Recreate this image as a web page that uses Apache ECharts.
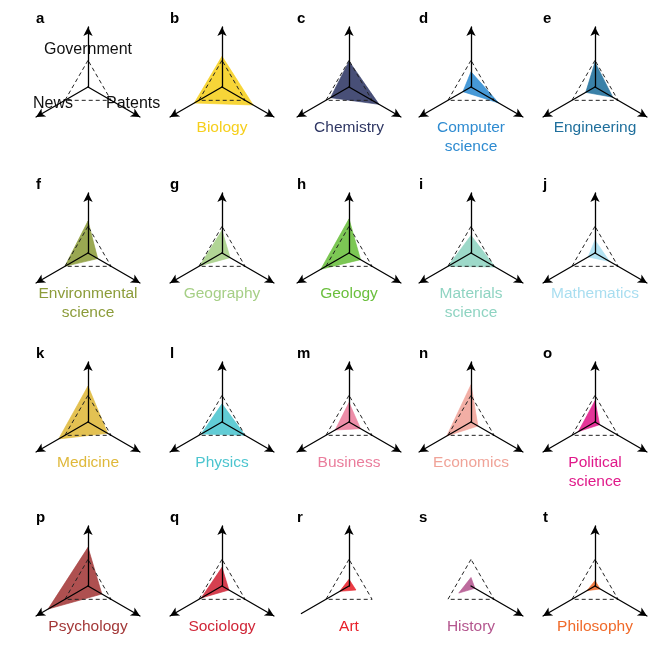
<!DOCTYPE html>
<html>
<head>
<meta charset="utf-8">
<script src="https://cdn.jsdelivr.net/npm/echarts@6/dist/echarts.min.js"></script>
<style>
  html, body { margin: 0; padding: 0; background: #fff; }
  #main { width: 660px; height: 660px; }
</style>
</head>
<body>
<div id="main"></div>
<script>
// three axes of every small radar, counter-clockwise from the top
var axisNames = ['Government', 'News', 'Patents'];
var letters = ['a','b','c','d','e','f','g','h','i','j','k','l','m','n','o','p','q','r','s','t'];
var fields = ['', 'Biology', 'Chemistry', 'Computer\nscience', 'Engineering',
  'Environmental\nscience', 'Geography', 'Geology', 'Materials\nscience', 'Mathematics',
  'Medicine', 'Physics', 'Business', 'Economics', 'Political\nscience',
  'Psychology', 'Sociology', 'Art', 'History', 'Philosophy'];
var colors = ['#000000', '#f6cf1c', '#2f3764', '#2e8bd1', '#1f6f9c',
  '#8c9c3a', '#a6cf86', '#6abf3c', '#8fd4c2', '#a9def0',
  '#dfb83a', '#4cc5cf', '#ea7d9c', '#f0a398', '#e0198a',
  '#a33838', '#d02638', '#e8202a', '#b4578f', '#f06a2a'];
// values relative to the all-field average (dashed triangle = 1)
var government = [null, 1.15, 0.97, 0.57, 0.93, 1.2, 0.85, 1.28, 0.66, 0.48,
  1.35, 0.68, 0.73, 1.4, 0.8, 1.45, 0.7, 0.25, 0.32, 0.2];
var news = [null, 1.2, 0.8, 0.35, 0.4, 1.0, 0.97, 1.22, 1.0, 0.3,
  1.27, 0.9, 0.6, 1.05, 0.72, 1.73, 0.9, 0.4, 0.53, 0.35];
var patents = [null, 1.35, 1.3, 1.2, 0.77, 0.42, 0.35, 0.5, 1.05, 0.63,
  0.85, 1.0, 0.5, 0.3, 0.2, 0.6, 0.3, 0.3, 0.17, 0.22];
var baseline = [1, 1, 1];
var axisMax = 2.25;

var colX = [88, 222, 349, 471, 595];
var rowY = [87, 253, 422, 586];
var R = 60;
var FONT = '"Liberation Sans", Arial, sans-serif';

// panels whose axes are partly cut off in the figure
var partialAxes = {
  17: [{ angle: 90, len: 60, arrow: true }, { angle: 210, len: 55, arrow: false }],
  18: [{ angle: 330, len: 60, arrow: true }]
};

var radars = [], series = [], graphics = [];

function axisLine(arrow) {
  return {
    show: true,
    symbol: arrow ? ['none', 'arrow'] : ['none', 'none'],
    symbolSize: [7, 9],
    lineStyle: { color: '#000', width: 1.3 }
  };
}

letters.forEach(function (letter, i) {
  var cx = colX[i % 5], cy = rowY[Math.floor(i / 5)];
  var partial = partialAxes[i];
  var radarIndex = radars.length;
  radars.push({
    center: [cx, cy],
    radius: R,
    startAngle: 90,
    shape: 'polygon',
    z: 3,
    indicator: axisNames.map(function (n) { return { name: n, max: axisMax }; }),
    axisName: { show: false },
    splitLine: { show: false },
    splitArea: { show: false },
    axisLine: partial ? { show: false } : axisLine(true)
  });
  if (partial) {
    partial.forEach(function (p) {
      radars.push({
        center: [cx, cy], radius: p.len, startAngle: p.angle, z: 3,
        indicator: [{ name: '', max: 1 }],
        axisName: { show: false }, splitLine: { show: false }, splitArea: { show: false },
        axisLine: axisLine(p.arrow)
      });
    });
  }
  var data = [];
  if (government[i] != null) {
    data.push({
      value: [government[i], news[i], patents[i]],
      areaStyle: { color: colors[i], opacity: 0.88 },
      lineStyle: { color: colors[i], width: 0.6 }
    });
  }
  data.push({
    value: baseline,
    lineStyle: { color: '#222', width: 1, type: [4, 3] }
  });
  series.push({
    type: 'radar',
    radarIndex: radarIndex,
    symbol: 'none',
    silent: true,
    data: data
  });

  graphics.push({
    type: 'text', x: cx - 52, y: cy - 68,
    style: { text: letter, fill: '#000', font: 'bold 15px ' + FONT,
      align: 'left', verticalAlign: 'middle' }
  });
  if (fields[i]) {
    graphics.push({
      type: 'text', x: cx, y: cy + 31,
      style: { text: fields[i], fill: colors[i], font: '15.5px ' + FONT,
        align: 'center', verticalAlign: 'top', lineHeight: 19 }
    });
  }
});

// axis names shown once, in panel a
graphics.push(
  { type: 'text', x: colX[0], y: 50, style: { text: axisNames[0], fill: '#111',
    font: '16px ' + FONT, align: 'center', verticalAlign: 'middle' } },
  { type: 'text', x: 73, y: 104, style: { text: axisNames[1], fill: '#111',
    font: '16px ' + FONT, align: 'right', verticalAlign: 'middle' } },
  { type: 'text', x: 106, y: 104, style: { text: axisNames[2], fill: '#111',
    font: '16px ' + FONT, align: 'left', verticalAlign: 'middle' } }
);

var chart = echarts.init(document.getElementById('main'));
chart.setOption({
  backgroundColor: '#fff',
  animation: false,
  radar: radars,
  series: series,
  graphic: graphics
});
</script>
</body>
</html>
